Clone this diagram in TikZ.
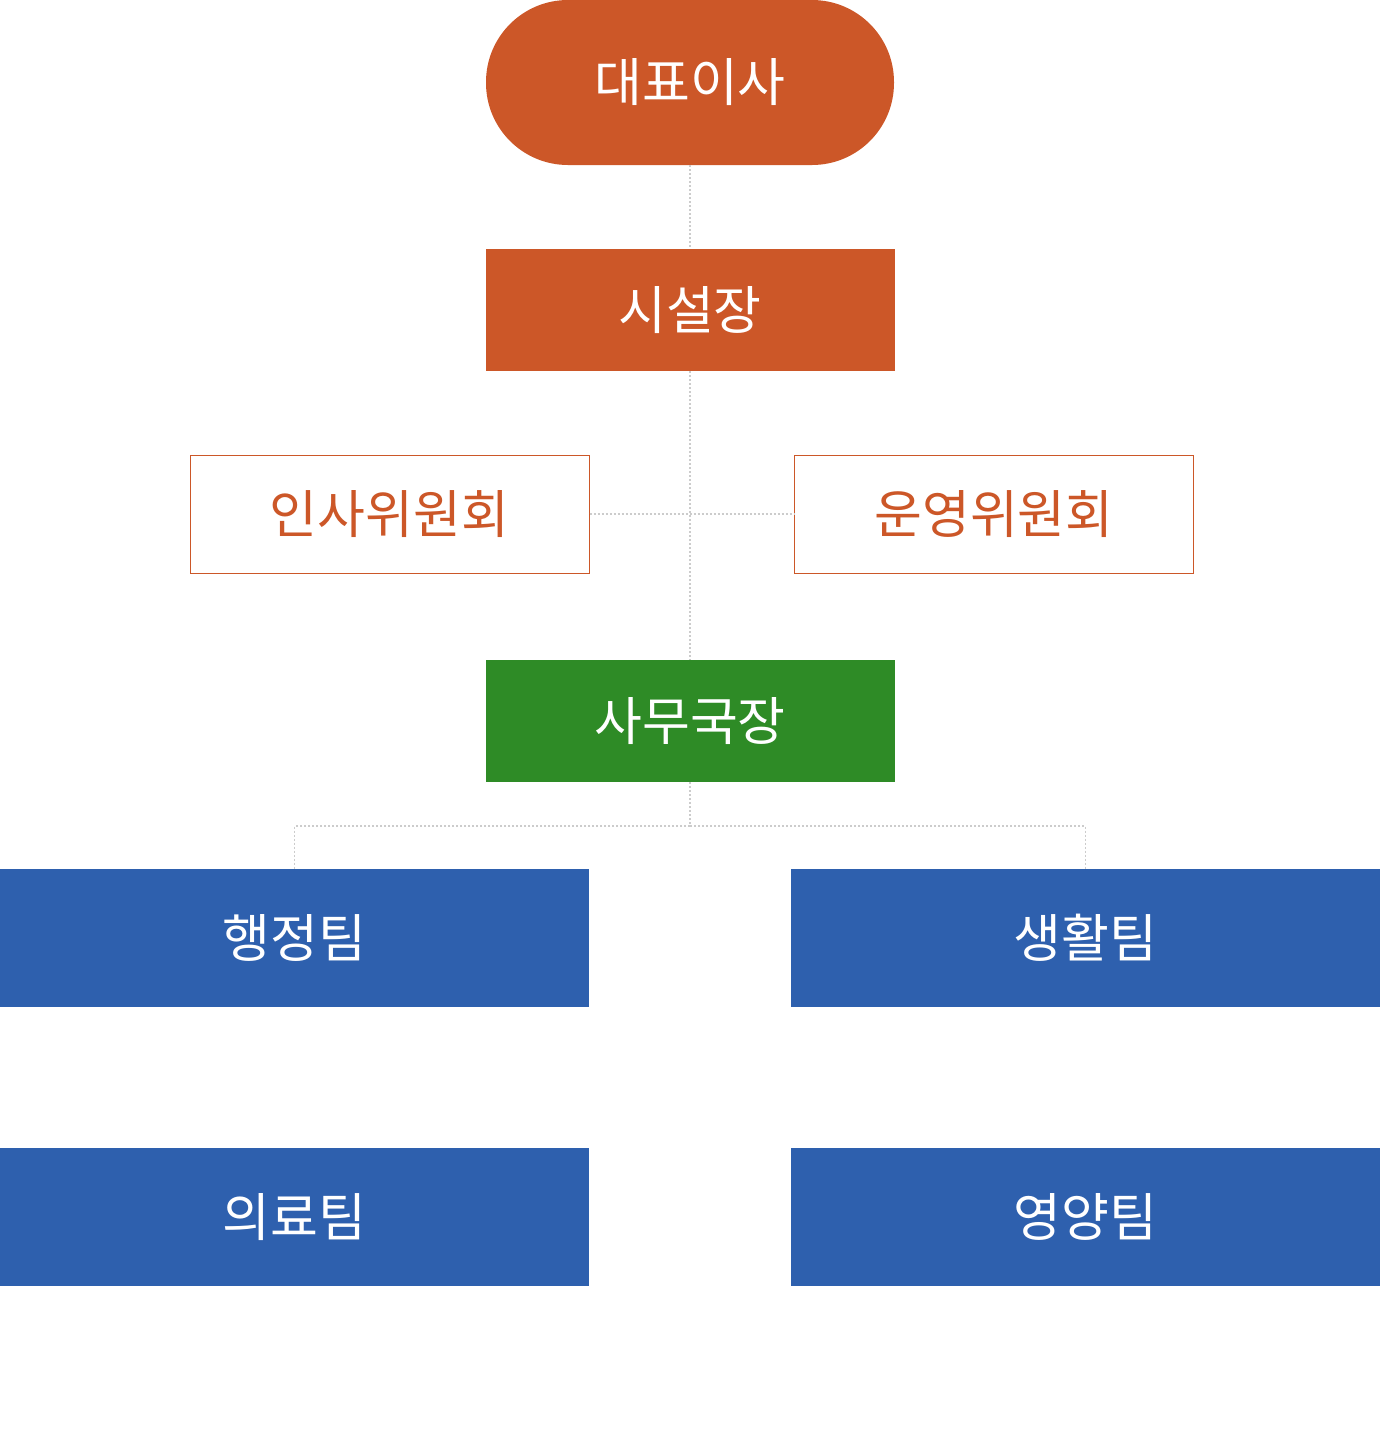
\documentclass[tikz,border=0pt]{standalone}
\usepackage{fontspec}
\setmainfont{Noto Sans CJK KR}
\definecolor{orgred}{HTML}{CC5728}
\definecolor{orggreen}{HTML}{2E8B26}
\definecolor{orgblue}{HTML}{2E60AE}
\definecolor{linegray}{HTML}{CCCCCC}
\begin{document}
\begin{tikzpicture}[x=0.5pt,y=-0.5pt,
  font=\fontsize{26}{31}\selectfont,
  chief/.style={fill=orgred,text=white,rounded corners=41pt,minimum width=204pt,minimum height=82.5pt,inner sep=0pt},
  head/.style={fill=orgred,text=white,minimum width=204.5pt,minimum height=61pt,inner sep=0pt},
  board/.style={draw=orgred,line width=0.5pt,fill=white,text=orgred,minimum width=199.5pt,minimum height=59pt,inner sep=0pt},
  office/.style={fill=orggreen,text=white,minimum width=204.5pt,minimum height=61pt,inner sep=0pt},
  team/.style={fill=orgblue,text=white,minimum width=294.5pt,minimum height=69pt,inner sep=0pt},
  link/.style={draw=linegray,line width=0.9pt,dash pattern=on 1pt off 1pt}]
\useasboundingbox (0,0) rectangle (1380,1447);

\node[chief] (ceo) at (690,82.5) {대표이사};
\node[head] (dir) at (690,310) {시설장};
\node[board] (hr) at (389.5,514) {인사위원회};
\node[board] (ops) at (994,514) {운영위원회};
\node[office] (sec) at (690,721) {사무국장};
\node[team] (adm) at (294.5,938) {행정팀};
\node[team] (life) at (1085.5,938) {생활팀};
\node[team] (med) at (294.5,1217) {의료팀};
\node[team] (food) at (1085.5,1217) {영양팀};
\coordinate (split) at (690,826);

\draw[link] (ceo.south) -- (dir.north);
\draw[link] (dir.south) -- (sec.north);
\draw[link] (hr.east) -- (ops.west);
\draw[link] (sec.south) -- (split);
\draw[link] (split) -| (adm.north);
\draw[link] (split) -| (life.north);

\end{tikzpicture}
\end{document}
